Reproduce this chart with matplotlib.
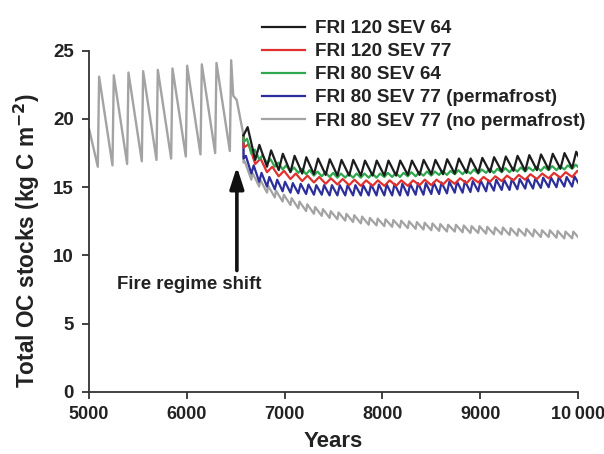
import matplotlib
matplotlib.use("Agg")
import matplotlib.pyplot as plt
from matplotlib.lines import Line2D

plt.rcParams['font.family'] = ['Liberation Sans', 'DejaVu Sans']
plt.rcParams['font.weight'] = 'bold'

# ---------------- data ----------------
x_ticks = [5000, 6000, 7000, 8000, 9000, 10000]
x_tick_labels = ['5000', '6000', '7000', '8000', '9000', '10\u2009000']
y_ticks = [0, 5, 10, 15, 20, 25]

labels = ['FRI 120 SEV 64', 'FRI 120 SEV 77', 'FRI 80 SEV 64',
          'FRI 80 SEV 77 (permafrost)', 'FRI 80 SEV 77 (no permafrost)']
colors = ['#1c1c1c', '#e0312f', '#2fa84f', '#2c2e9c', '#a3a3a3']

# pre-shift regime (FRI 150)
pre_start = (5000, 19.3)
pre_t0, pre_fri, pre_rise = 5090, 150, 0.09
pre_troughs = [16.5, 16.6, 16.7, 16.9, 17.0, 17.1, 17.25, 17.4, 17.5, 17.65]
pre_peaks = [23.1, 23.2, 23.4, 23.5, 23.6, 23.7, 23.9, 24.0, 24.1, 24.3]
transition_years = [6475, 6510, 6580]
transition_vals = [21.7, 21.4, 18.8]

shift_year = 6580

# FRI 120 SEV 64 (black)
blk_troughs = [18.8, 17.0, 16.5, 16.25, 16.1, 16.0, 15.95, 15.9, 15.85, 15.85,
               15.85, 15.85, 15.85, 15.85, 15.9, 15.9, 15.95, 15.95, 16.0, 16.05,
               16.05, 16.1, 16.15, 16.2, 16.2, 16.25, 16.3, 16.35, 16.4, 16.45]
blk_peaks = [19.4, 18.1, 17.7, 17.45, 17.3, 17.2, 17.1, 17.05, 17.0, 17.0,
             16.95, 16.95, 16.95, 16.95, 16.95, 17.0, 17.0, 17.05, 17.1, 17.1,
             17.15, 17.2, 17.25, 17.3, 17.35, 17.4, 17.45, 17.5, 17.6]

# FRI 120 SEV 77 (red)
red_troughs = [17.9, 16.7, 16.1, 15.8, 15.6, 15.45, 15.35, 15.25, 15.2, 15.15,
               15.1, 15.1, 15.1, 15.1, 15.1, 15.15, 15.15, 15.2, 15.25, 15.3,
               15.35, 15.4, 15.45, 15.5, 15.55, 15.6, 15.65, 15.7, 15.75, 15.8]
red_peaks = [18.15, 17.1, 16.5, 16.2, 16.0, 15.85, 15.75, 15.65, 15.6, 15.55,
             15.5, 15.5, 15.5, 15.5, 15.5, 15.55, 15.55, 15.6, 15.65, 15.7,
             15.75, 15.8, 15.85, 15.9, 15.95, 16.0, 16.05, 16.1, 16.2]

# FRI 80 SEV 64 (green)
grn_troughs = [18.3, 17.45, 17.05, 16.75, 16.5, 16.3, 16.15, 16.05, 15.95, 15.85,
               15.8, 15.75, 15.7, 15.7, 15.7, 15.7, 15.7, 15.7, 15.75, 15.75,
               15.75, 15.8, 15.8, 15.85, 15.85, 15.9, 15.9, 15.95, 15.95, 16.0,
               16.0, 16.05, 16.05, 16.1, 16.1, 16.15, 16.15, 16.2, 16.2, 16.25,
               16.25, 16.3, 16.35, 16.35]
grn_peaks = [18.55, 17.75, 17.35, 17.05, 16.8, 16.6, 16.45, 16.35, 16.25, 16.15,
             16.1, 16.05, 16.0, 16.0, 16.0, 16.0, 16.0, 16.0, 16.05, 16.05,
             16.05, 16.1, 16.1, 16.15, 16.15, 16.2, 16.2, 16.25, 16.25, 16.3,
             16.3, 16.35, 16.35, 16.4, 16.4, 16.45, 16.45, 16.5, 16.5, 16.55,
             16.55, 16.6, 16.65]

# FRI 80 SEV 77 permafrost (blue)
blu_troughs = [17.1, 16.0, 15.4, 15.05, 14.85, 14.7, 14.6, 14.55, 14.5, 14.45,
               14.45, 14.4, 14.4, 14.4, 14.4, 14.4, 14.4, 14.4, 14.4, 14.4,
               14.4, 14.4, 14.45, 14.45, 14.5, 14.5, 14.55, 14.6, 14.6, 14.65,
               14.7, 14.7, 14.75, 14.8, 14.8, 14.85, 14.9, 14.9, 14.95, 15.0,
               15.0, 15.05, 15.05, 15.1]
blu_peaks = [17.3, 16.6, 16.05, 15.75, 15.55, 15.4, 15.3, 15.25, 15.2, 15.15,
             15.15, 15.15, 15.15, 15.15, 15.15, 15.15, 15.2, 15.2, 15.2, 15.25,
             15.25, 15.25, 15.3, 15.3, 15.35, 15.35, 15.4, 15.4, 15.45, 15.45,
             15.5, 15.5, 15.55, 15.55, 15.6, 15.6, 15.65, 15.65, 15.7, 15.7,
             15.75, 15.75, 15.8]

# FRI 80 SEV 77 no permafrost (gray)
gry_troughs = [16.8, 15.55, 15.05, 14.6, 14.25, 13.95, 13.7, 13.45, 13.25, 13.05,
               12.9, 12.75, 12.65, 12.55, 12.45, 12.35, 12.25, 12.2, 12.15, 12.1,
               12.05, 12.0, 11.95, 11.9, 11.85, 11.8, 11.75, 11.75, 11.7, 11.65,
               11.65, 11.6, 11.55, 11.55, 11.5, 11.45, 11.45, 11.4, 11.35, 11.35,
               11.3, 11.25, 11.25, 11.2]
gry_peaks = [16.9, 16.05, 15.55, 15.1, 14.75, 14.45, 14.2, 13.95, 13.75, 13.55,
             13.4, 13.25, 13.15, 13.05, 12.95, 12.85, 12.75, 12.7, 12.65, 12.6,
             12.55, 12.5, 12.45, 12.4, 12.35, 12.3, 12.25, 12.25, 12.2, 12.15,
             12.15, 12.1, 12.05, 12.05, 12.0, 11.95, 11.95, 11.9, 11.85, 11.85,
             11.8, 11.75, 11.75]

post_fri = [120, 120, 80, 80, 80]
post_rise = [0.35, 0.45, 0.45, 0.3, 0.15]
post_troughs = [blk_troughs, red_troughs, grn_troughs, blu_troughs, gry_troughs]
post_peaks = [blk_peaks, red_peaks, grn_peaks, blu_peaks, gry_peaks]

arrow_x = 6512
arrow_tail = 8.9
arrow_tip = 16.5
annot_text = 'Fire regime shift'
annot_xy = (6020, 7.9)


def sawtooth(t0, fri, rise, troughs, peaks):
    xs, ys = [], []
    for k, (lo, hi) in enumerate(zip(troughs, peaks)):
        xs += [t0 + k * fri, t0 + k * fri + rise * fri]
        ys += [lo, hi]
    if len(troughs) > len(peaks):
        xs.append(t0 + len(peaks) * fri)
        ys.append(troughs[len(peaks)])
    return xs, ys


# ---------------- figure ----------------
fig = plt.figure(figsize=(6.04, 4.54), dpi=100)
ax = fig.add_axes([89 / 604, 1 - 392 / 454, (578 - 89) / 604, (392 - 50.7) / 454])

# pre-shift (gray)
px, py = sawtooth(pre_t0, pre_fri, pre_rise, pre_troughs, pre_peaks)
px = [pre_start[0]] + px + transition_years
py = [pre_start[1]] + py + transition_vals
ax.plot(px, py, color=colors[4], lw=1.7, zorder=2)

draw_order = [4, 3, 1, 2, 0]
for i in draw_order:
    xs, ys = sawtooth(shift_year, post_fri[i], post_rise[i], post_troughs[i], post_peaks[i])
    xs = [transition_years[-1]] + xs
    ys = [transition_vals[-1]] + ys
    ax.plot(xs, ys, color=colors[i], lw=1.6, zorder=3 + draw_order.index(i))

ax.set_xlim(5000, 10000)
ax.set_ylim(0, 25)
ax.set_xticks(x_ticks)
ax.set_xticklabels(x_tick_labels)
ax.set_yticks(y_ticks)
for s in ['top', 'right']:
    ax.spines[s].set_visible(False)
for s in ['left', 'bottom']:
    ax.spines[s].set_linewidth(1.3)
    ax.spines[s].set_color('#333333')
ax.tick_params(direction='out', length=5, width=1.3, color='#333333',
               labelsize=13, labelcolor='#222222')
ax.tick_params(axis='y', pad=6, labelsize=13.5)
ax.tick_params(axis='x', pad=5)
for lab in ax.get_xticklabels() + ax.get_yticklabels():
    lab.set_fontweight('bold')

ax.set_xlabel('Years', fontsize=16, fontweight='bold', color='#222222', labelpad=6)
ax.set_ylabel('Total OC stocks (kg C m$^{\\mathbf{-2}}$)', fontsize=16.3,
              fontweight='bold', color='#222222')
ax.yaxis.set_label_coords((42 - 89) / 489, (392 - 240) / 341.3)

ax.annotate('', xy=(arrow_x, arrow_tip), xytext=(arrow_x, arrow_tail),
            arrowprops=dict(arrowstyle='-|>,head_length=1.3,head_width=0.42',
                            color='#111111', lw=2.6, shrinkA=0, shrinkB=0))
ax.text(annot_xy[0], annot_xy[1], annot_text, fontsize=13.4, fontweight='bold',
        color='#222222', ha='center', va='center')

handles = [Line2D([0], [0], color=c, lw=1.6) for c in colors]
leg = fig.legend(handles, labels, loc='upper left', bbox_to_anchor=(262 / 604, 1 - 20 / 454),
                 frameon=False, fontsize=13.6, handlelength=2.25, handletextpad=0.55,
                 labelspacing=0.31, borderpad=0, borderaxespad=0)
for t in leg.get_texts():
    t.set_fontweight('bold')
    t.set_color('#222222')

fig.savefig('out.png', dpi=100)
